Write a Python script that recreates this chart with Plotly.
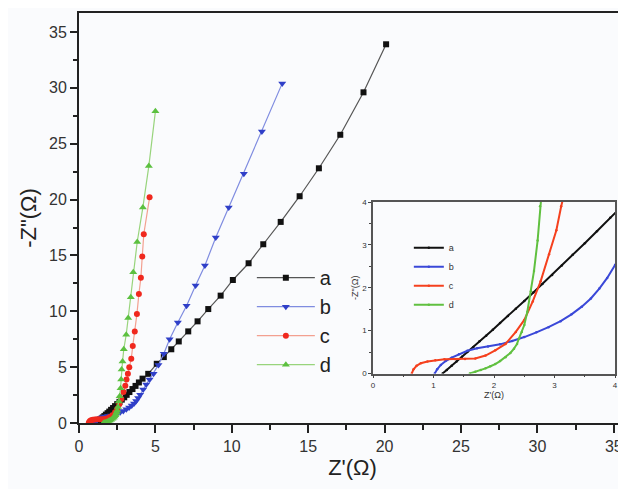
import plotly.graph_objects as go

# ---- data ----
names = ["a", "b", "c", "d"]

a_x = [1.15, 1.22, 1.3, 1.38, 1.47, 1.56, 1.66, 1.76, 1.87, 1.98, 2.1, 2.23, 2.36, 2.5, 2.65, 2.8,
       2.96, 3.12, 3.3, 3.5, 3.7, 3.92, 4.16, 4.53, 5.09, 5.55, 6.04, 6.53, 7.15, 7.76, 8.46,
       9.27, 10.07, 11.1, 12.06, 13.2, 14.44, 15.7, 17.1, 18.62, 20.1]
a_y = [0, 0.08, 0.18, 0.28, 0.39, 0.5, 0.62, 0.75, 0.88, 1.02, 1.18, 1.34, 1.51, 1.69, 1.89, 2.09,
       2.3, 2.52, 2.77, 3.04, 3.32, 3.63, 3.97, 4.4, 5.3, 5.9, 6.6, 7.3, 8.2, 9.1, 10.2,
       11.4, 12.8, 14.3, 16.0, 18.0, 20.3, 22.8, 25.8, 29.6, 33.9]

b_x = [1.02, 1.06, 1.12, 1.2, 1.3, 1.42, 1.56, 1.72, 1.9, 2.1, 2.3, 2.5, 2.7, 2.9, 3.1, 3.28,
       3.45, 3.6, 3.74, 3.87, 4.0, 4.2, 4.4, 4.62, 4.88, 5.2, 5.55, 5.93, 6.47, 7.04, 7.63,
       8.24, 8.95, 9.8, 10.79, 11.97, 13.3]
b_y = [0, 0.1, 0.2, 0.29, 0.37, 0.45, 0.53, 0.59, 0.63, 0.68, 0.76, 0.85, 0.96, 1.08, 1.22, 1.38,
       1.56, 1.75, 1.98, 2.23, 2.53, 3.0, 3.45, 3.9, 4.4, 5.2, 6.2, 7.5, 9.0, 10.5, 12.3,
       14.1, 16.6, 19.3, 22.3, 26.1, 30.4]

c_x = [0.64, 0.67, 0.72, 0.79, 0.9, 1.03, 1.18, 1.35, 1.52, 1.69, 1.86, 2.02, 2.19, 2.36, 2.5,
       2.64, 2.77, 2.91, 3.03, 3.11, 3.2, 3.29, 3.42, 3.52, 3.65, 3.79, 3.92, 4.05, 4.14, 4.24, 4.62]
c_y = [0, 0.1, 0.18, 0.24, 0.28, 0.31, 0.33, 0.34, 0.34, 0.35, 0.42, 0.54, 0.69, 0.97, 1.25,
       1.68, 2.15, 2.78, 3.34, 3.9, 4.4, 5.0, 5.75, 6.9, 8.2, 9.75, 11.55, 13.0, 14.9, 16.9, 20.2]

d_x = [1.6, 1.69, 1.78, 1.86, 1.94, 2.02, 2.1, 2.19, 2.27, 2.33, 2.38, 2.41, 2.46, 2.5, 2.55,
       2.61, 2.66, 2.72, 2.76, 2.79, 2.85, 2.93, 3.09, 3.22, 3.39, 3.55, 3.81, 4.18, 4.57, 5.0]
d_y = [0, 0.04, 0.08, 0.12, 0.17, 0.22, 0.29, 0.38, 0.48, 0.58, 0.69, 0.81, 0.97, 1.13, 1.44,
       1.92, 2.39, 3.1, 3.9, 4.8, 5.5, 6.6, 7.9, 9.4, 11.25, 13.5, 16.2, 19.3, 23.0, 27.9]

series_x = [a_x, b_x, c_x, d_x]
series_y = [a_y, b_y, c_y, d_y]

marker_colors = ["#111111", "#2f3fc8", "#f0281e", "#5cc040"]
line_colors = ["#555555", "#7f8ce0", "#f3a090", "#98d47c"]
inset_colors = ["#111111", "#3a48d8", "#f5401e", "#60c040"]
symbols = ["square", "triangle-down", "circle", "triangle-up"]
msizes = [6, 7, 6, 7]

FONT = "Liberation Sans, Arial, sans-serif"

fig = go.Figure()

for i in range(4):
    fig.add_trace(go.Scatter(
        x=series_x[i], y=series_y[i], name=names[i], mode="lines+markers",
        line=dict(color=line_colors[i], width=1.2),
        marker=dict(symbol=symbols[i], size=msizes[i], color=marker_colors[i],
                    line=dict(width=0)),
        xaxis="x", yaxis="y", legend="legend", cliponaxis=True))

for i in range(4):
    fig.add_trace(go.Scatter(
        x=series_x[i], y=series_y[i], name=names[i], mode="lines+markers",
        line=dict(color=inset_colors[i], width=2),
        marker=dict(symbol="circle", size=2.5, color=inset_colors[i]),
        xaxis="x2", yaxis="y2", legend="legend2", cliponaxis=True))

axis_color = "#222222"

# the page body has an 8px margin, so the figure is sized to the visible window
fig.update_layout(
    width=618, height=481,
    margin=dict(l=71, r=0, t=5, b=66),
    paper_bgcolor="#fafbfd", plot_bgcolor="#fafbfd",
    font=dict(family=FONT, color="#333333"),
    showlegend=True,
    xaxis=dict(
        domain=[0, 1], range=[0, 35.8], tickmode="array", automargin=False,
        tickvals=[0, 5, 10, 15, 20, 25, 30, 35],
        ticks="outside", ticklen=8, tickwidth=2, tickcolor=axis_color,
        minor=dict(tickvals=[2.5, 7.5, 12.5, 17.5, 22.5, 27.5, 32.5], ticks="outside",
                   ticklen=5, tickwidth=2, tickcolor=axis_color),
        showline=True, linewidth=2, linecolor=axis_color, mirror=True,
        showgrid=False, zeroline=False,
        tickfont=dict(size=16, color="#333333"),
        title=dict(text="Z'(Ω)", font=dict(size=22, color="#222222"), standoff=0),
    ),
    yaxis=dict(
        domain=[0, 1], range=[0, 36.7], tickmode="array", automargin=False,
        tickvals=[0, 5, 10, 15, 20, 25, 30, 35],
        ticks="outside", ticklen=7, tickwidth=2, tickcolor=axis_color,
        minor=dict(tickvals=[2.5, 7.5, 12.5, 17.5, 22.5, 27.5, 32.5], ticks="outside",
                   ticklen=4, tickwidth=2, tickcolor=axis_color),
        showline=True, linewidth=2, linecolor=axis_color, mirror=False,
        showgrid=False, zeroline=False,
        tickfont=dict(size=16, color="#333333"),
        title=dict(text='-Z"(Ω)', font=dict(size=22, color="#222222"), standoff=6),
    ),
    xaxis2=dict(
        domain=[0.5375, 0.980], anchor="y2", range=[0, 4], automargin=False,
        tickvals=[0, 1, 2, 3, 4], ticks="outside", ticklen=3, tickwidth=1,
        tickcolor="#444444",
        minor=dict(tickvals=[0.5, 1.5, 2.5, 3.5], ticks="outside", ticklen=2,
                   tickwidth=1, tickcolor="#444444"),
        showline=True, linewidth=1.5, linecolor="#555555", mirror=True,
        showgrid=False, zeroline=False,
        tickfont=dict(size=8, color="#333333"),
        title=dict(text="Z'(Ω)", font=dict(size=9, color="#333333"), standoff=2),
    ),
    yaxis2=dict(
        domain=[0.1207, 0.539], anchor="x2", range=[0, 4], automargin=False,
        tickvals=[0, 1, 2, 3, 4], ticks="outside", ticklen=3, tickwidth=1,
        tickcolor="#444444",
        minor=dict(tickvals=[0.5, 1.5, 2.5, 3.5], ticks="outside", ticklen=2,
                   tickwidth=1, tickcolor="#444444"),
        showline=True, linewidth=1.5, linecolor="#555555", mirror=True,
        showgrid=False, zeroline=False,
        tickfont=dict(size=8, color="#333333"),
        title=dict(text='-Z"(Ω)', font=dict(size=9, color="#333333"), standoff=2),
    ),
    legend=dict(
        x=0.316, y=0.402, xanchor="left", yanchor="top",
        bgcolor="rgba(0,0,0,0)", borderwidth=0, itemwidth=58,
        font=dict(size=20, color="#222222", family=FONT), tracegroupgap=0,
    ),
    legend2=dict(
        x=0.603, y=0.463, xanchor="left", yanchor="top",
        bgcolor="rgba(0,0,0,0)", borderwidth=0, itemwidth=30,
        font=dict(size=9, color="#333333", family=FONT), tracegroupgap=0,
    ),
)

fig.write_html("out.html")
